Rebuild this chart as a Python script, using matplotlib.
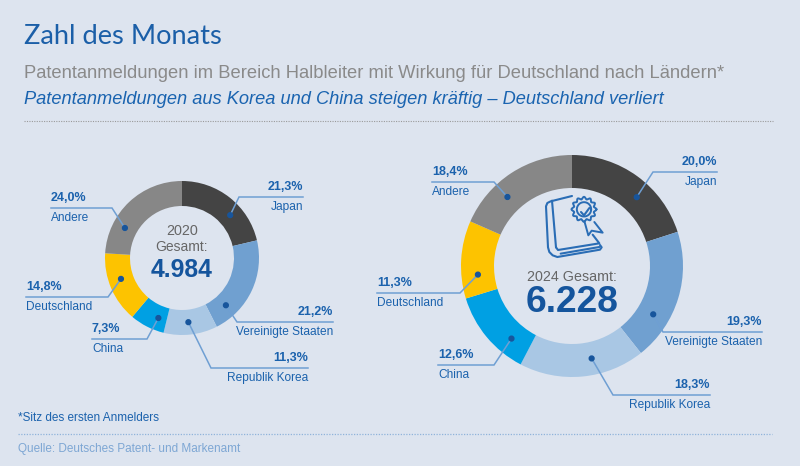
import matplotlib
matplotlib.use("Agg")
import matplotlib.pyplot as plt
import numpy as np
from matplotlib.patches import Circle
from matplotlib.lines import Line2D

# ---------------- data ----------------
countries = ["Japan", "Vereinigte Staaten", "Republik Korea", "China", "Deutschland", "Andere"]
share_2020 = [21.3, 21.2, 11.3, 7.3, 14.8, 24.0]
share_2024 = [20.0, 19.3, 18.3, 12.6, 11.3, 18.4]
total_2020 = 4984
total_2024 = 6228

title = "Zahl des Monats"
subtitle = "Patentanmeldungen im Bereich Halbleiter mit Wirkung für Deutschland nach Ländern*"
headline = "Patentanmeldungen aus Korea und China steigen kräftig – Deutschland verliert"
footnote = "*Sitz des ersten Anmelders"
source = "Quelle: Deutsches Patent- und Markenamt"

# ---------------- style ----------------
colors = ["#444444", "#70a0d0", "#a9c7e4", "#00a0e3", "#fdc300", "#878787"]
BG = "#dde4ef"
BLUE = "#1b62ad"
LINE = "#6f9fd3"
GRAY = "#8a8a8a"
FONT = "Liberation Sans"

W, H = 800, 466
fig = plt.figure(figsize=(W / 100, H / 100), dpi=100)
fig.patch.set_facecolor(BG)
ax = fig.add_axes([0, 0, 1, 1])
ax.set_facecolor(BG)


def Y(py):
    return H - py


def fmt_pct(v):
    return f"{v:.1f}".replace(".", ",") + "%"


def fmt_total(v):
    return f"{v:,}".replace(",", ".")


def donut(vals, cx, cy, r, w):
    ax.pie(vals, colors=colors, startangle=90, counterclock=False,
           center=(cx, Y(cy)), radius=r,
           wedgeprops=dict(width=w, linewidth=0), frame=False)


def dot_pos(vals, i, frac, cx, cy, rm):
    tot = sum(vals)
    before = sum(vals[:i])
    ang = 360.0 * (before + frac * vals[i]) / tot  # clockwise from top
    th = np.deg2rad(90 - ang)
    return cx + rm * np.cos(th), Y(cy) + rm * np.sin(th)


def label(vals, i, frac, cx, cy, rm, elbow, endx, side):
    dx, dy = dot_pos(vals, i, frac, cx, cy, rm)
    ex, ey = elbow
    ax.add_line(Line2D([dx, ex, endx], [dy, Y(ey), Y(ey)], color=LINE, lw=1.1,
                       solid_joinstyle="miter", zorder=4))
    ax.add_patch(Circle((dx, dy), 2.4, color="#17559c", zorder=5))
    ha = "right" if side == "r" else "left"
    ax.text(endx, Y(ey - 10), fmt_pct(vals[i]), ha=ha, va="center",
            fontsize=9, fontweight="bold", color=BLUE, family=FONT)
    ax.text(endx, Y(ey + 10), countries[i], ha=ha, va="center",
            fontsize=8.6, color=BLUE, family=FONT)


# ---------------- donut 2020 ----------------
c1 = (182, 258)
r1, w1 = 77, 25
donut(share_2020, c1[0], c1[1], r1, w1)
rm1 = r1 - w1 / 2
layout_2020 = [  # (frac, elbow, end x, side)
    (0.63, (239, 197), 303, "r"),
    (0.79, (237, 322), 333, "r"),
    (0.52, (211, 368), 308, "r"),
    (0.29, (147, 339), 92, "l"),
    (0.58, (108, 297), 26, "l"),
    (0.28, (112, 208), 51, "l"),
]
for i, (fr, el, ex, sd) in enumerate(layout_2020):
    label(share_2020, i, fr, c1[0], c1[1], rm1, el, ex, sd)

# ---------------- donut 2024 ----------------
c2 = (572, 266)
r2, w2 = 111, 33
donut(share_2024, c2[0], c2[1], r2, w2)
rm2 = r2 - w2 / 2
layout_2024 = [
    (0.60, (653, 172), 717, "r"),
    (0.70, (663, 332), 762, "r"),
    (0.40, (613, 395), 710, "r"),
    (0.27, (494, 365), 438, "l"),
    (0.29, (460, 293), 377, "l"),
    (0.35, (494, 182), 432, "l"),
]
for i, (fr, el, ex, sd) in enumerate(layout_2024):
    label(share_2024, i, fr, c2[0], c2[1], rm2, el, ex, sd)

ax.set_xlim(0, W)
ax.set_ylim(0, H)
ax.set_aspect("auto")
ax.axis("off")

fig.canvas.draw()
rend = fig.canvas.get_renderer()


def fit(t, target):
    bb = t.get_window_extent(renderer=rend)
    t.set_fontsize(t.get_fontsize() * target / bb.width)
    return t


# ---------------- center texts ----------------
CG = "#666666"
fit(ax.text(c1[0], Y(231), "2020", ha="center", va="center", fontsize=11,
            color=CG, family=FONT), 32)
fit(ax.text(c1[0], Y(247), "Gesamt:", ha="center", va="center", fontsize=11,
            color=CG, family=FONT), 52)
fit(ax.text(c1[0], Y(270), fmt_total(total_2020), ha="center", va="center",
            fontsize=16, fontweight="bold", color="#15559d", family=FONT), 62)

fit(ax.text(c2[0], Y(277), "2024 Gesamt:", ha="center", va="center", fontsize=11,
            color=CG, family=FONT), 89)
fit(ax.text(c2[0], Y(303), fmt_total(total_2024), ha="center", va="center",
            fontsize=24, fontweight="bold", color="#15559d", family=FONT), 93)

# ---------------- icon (book with badge) ----------------
IC = "#2a6db5"
ox, oy = 540, 188


def P(pts):
    return [(ox + x / 3.0, Y(oy + y / 3.0)) for x, y in pts]


def pline(pts, lw=1.5):
    xs, ys = zip(*P(pts))
    ax.add_line(Line2D(xs, ys, color=IC, lw=lw, solid_capstyle="round",
                       solid_joinstyle="round", zorder=6))


# book outline
pline([(96, 24), (32, 40), (22, 45), (18, 55), (24, 178), (28, 192), (38, 202),
       (52, 207), (180, 185), (185, 178), (180, 171)])
# spine fold
pline([(36, 38), (48, 178)])
# cover bottom and right edge
pline([(48, 178), (54, 186), (178, 166), (158, 140)])
# page line
pline([(62, 197), (178, 177)])
# badge scalloped outline
bx, by = 132, 64
ang = np.linspace(0, 2 * np.pi, 400)
rad = 34 + 3.5 * np.cos(12 * ang)
pline(list(zip(bx + rad * np.cos(ang), by + rad * np.sin(ang))), lw=1.4)
pline(list(zip(bx + 21.5 * np.cos(ang), by + 21.5 * np.sin(ang))), lw=1.4)
pline([(123, 72), (132, 82), (148, 60)], lw=1.5)
# ribbons
pline([(133, 99), (145, 142), (155, 128), (188, 134), (163, 102)], lw=1.4)

# ---------------- header / footer ----------------
t = ax.text(24, Y(37), title, ha="left", va="center", fontsize=18,
            color="#1b5fa8", family="Lato", fontweight="normal")
fit(t, 198)
t = ax.text(24, Y(73), subtitle, ha="left", va="center", fontsize=11,
            color=GRAY, family=FONT)
fit(t, 701)
t = ax.text(24, Y(100), headline, ha="left", va="center", fontsize=11,
            color="#1a64b0", family=FONT, style="italic")
fit(t, 639)
ax.add_line(Line2D([24, 773], [Y(121), Y(121)], color="#9a9a9a", lw=0.8,
                   linestyle=(0, (1, 1.2))))

t = ax.text(18, Y(418), footnote, ha="left", va="center", fontsize=8.5,
            color=BLUE, family=FONT)
fit(t, 141)
ax.add_line(Line2D([18, 772], [Y(434), Y(434)], color="#8fb3da", lw=0.9,
                   linestyle=(0, (1, 1.2))))
t = ax.text(18, Y(449), source, ha="left", va="center", fontsize=8.5,
            color="#7ea7d4", family=FONT)
fit(t, 222)

fig.savefig("out.png", dpi=100, facecolor=BG)
